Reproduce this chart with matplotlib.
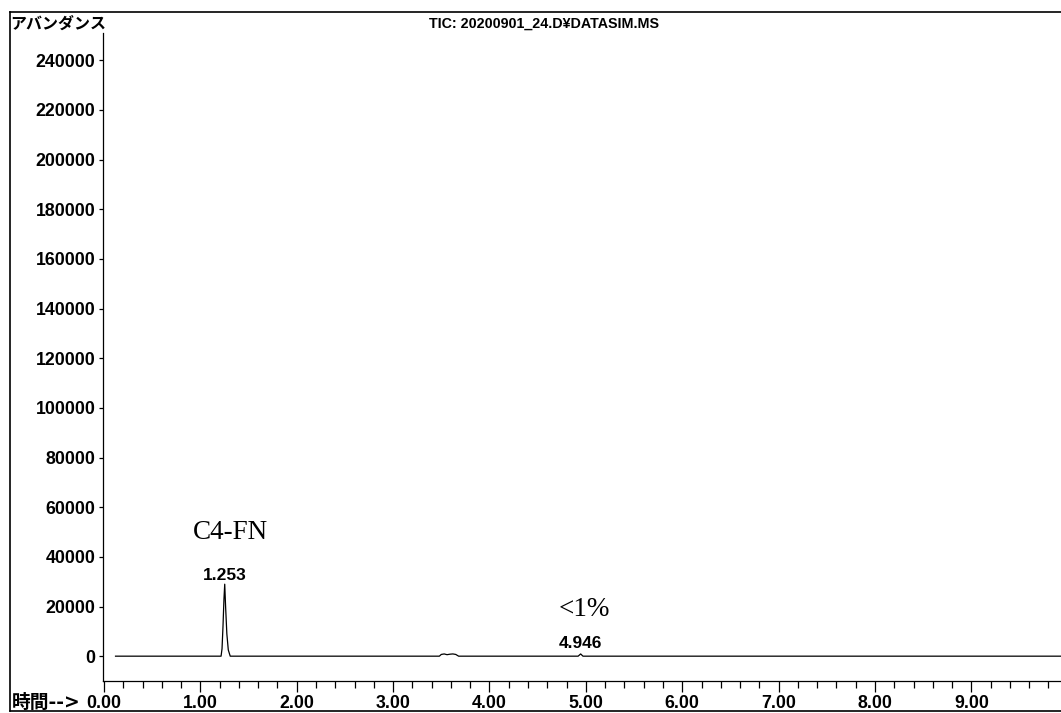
import matplotlib.pyplot as plt
from matplotlib.lines import Line2D
from matplotlib.ticker import MultipleLocator, FixedLocator

# Chromatogram trace (time in min, abundance)
time = [0.12, 1.215, 1.225, 1.235, 1.245, 1.253, 1.262, 1.275, 1.29, 1.31,
        3.48, 3.50, 3.53, 3.56, 3.59, 3.62, 3.65, 3.68,
        4.92, 4.946, 4.97, 9.93]
abundance = [0, 0, 3000, 12000, 23000, 29000, 20000, 9000, 2500, 0,
             0, 700, 900, 600, 800, 900, 700, 0,
             0, 900, 0, 0]

peak_times = [1.253, 4.946]
peak_labels = ["1.253", "4.946"]

x_ticks = [0, 1, 2, 3, 4, 5, 6, 7, 8, 9]
y_ticks = [0, 20000, 40000, 60000, 80000, 100000, 120000, 140000,
           160000, 180000, 200000, 220000, 240000]

W, H = 1061, 713
fig = plt.figure(figsize=(W / 100, H / 100), dpi=100)
ax = fig.add_axes([103 / W, 1 - 681 / H, 1 - 103 / W, (681 - 33) / H])

ax.plot(time, abundance, color="black", linewidth=0.9)

ax.set_xlim(-0.01, 9.93)
ax.set_ylim(-10000, 251000)

ax.xaxis.set_major_locator(FixedLocator(x_ticks))
ax.xaxis.set_minor_locator(MultipleLocator(0.2))
ax.set_xticklabels([f"{v:.2f}" for v in x_ticks])
ax.yaxis.set_major_locator(FixedLocator(y_ticks))
ax.set_yticklabels([str(v) for v in y_ticks])

num_font = "Liberation Sans"
for lbl in ax.get_xticklabels() + ax.get_yticklabels():
    lbl.set_fontfamily(num_font)
    lbl.set_fontsize(12.8)
    lbl.set_fontweight("bold")

ax.tick_params(axis="x", which="major", direction="out", length=8, width=0.9, pad=2)
ax.tick_params(axis="x", which="minor", direction="out", length=5, width=0.9)
ax.tick_params(axis="y", which="major", direction="out", length=3, width=0.9, pad=2.5)

ax.spines["top"].set_visible(False)
ax.spines["right"].set_visible(False)
ax.spines["left"].set_linewidth(0.9)
ax.spines["bottom"].set_linewidth(0.9)

# peak retention time labels
label_y = [32600, 5200]
for t, s, yy in zip(peak_times, peak_labels, label_y):
    ax.text(t, yy, s, ha="center", va="center", fontsize=12.5, family=num_font,
            fontweight="bold")

# hand-written style annotations
ax.text(1.31, 49700, "C4-FN", ha="center", va="center", fontsize=19.5, family="Liberation Serif")
ax.text(4.98, 18900, "<1%", ha="center", va="center", fontsize=19.5, family="Liberation Serif")

# header texts
jp = ["Noto Sans CJK JP", "DejaVu Sans"]
fig.text(10 / W, 1 - 24 / H, "アバンダンス", ha="left", va="center", fontsize=11.5,
         family=jp, fontweight="bold")
fig.text(544 / W, 1 - 24 / H, "TIC: 20200901_24.D¥DATASIM.MS", ha="center", va="center",
         fontsize=10.3, family=num_font, fontweight="bold")
fig.text(12 / W, 1 - 702 / H, "時間-->", ha="left", va="center", fontsize=13.5,
         family=["DejaVu Sans", "Noto Sans CJK JP"], fontweight="bold")

# outer frame of the printout
fig.add_artist(Line2D([10 / W, 1], [1 - 12 / H, 1 - 12 / H], color="black", linewidth=1.2))
fig.add_artist(Line2D([10 / W, 10 / W], [1 - 12 / H, 1 - 711 / H], color="black", linewidth=1.2))
fig.add_artist(Line2D([10 / W, 1], [1 - 711 / H, 1 - 711 / H], color="black", linewidth=1.2))

fig.savefig("out.png", dpi=100, facecolor="white")
